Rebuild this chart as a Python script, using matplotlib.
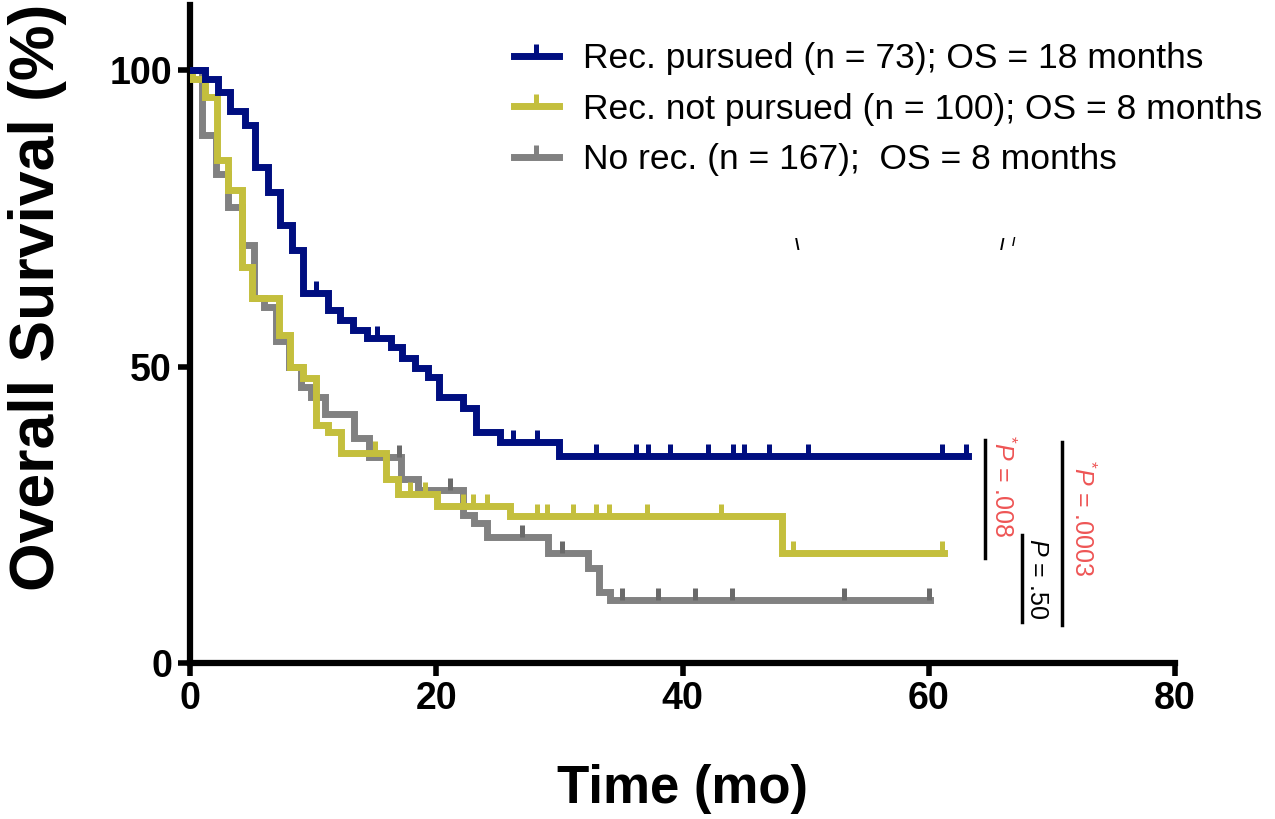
import numpy as np
import matplotlib
matplotlib.use("Agg")
import matplotlib.pyplot as plt
from matplotlib.lines import Line2D

plt.rcParams['font.family'] = ['Liberation Sans', 'DejaVu Sans']
plt.rcParams['mathtext.fontset'] = 'custom'
plt.rcParams['mathtext.rm'] = 'Liberation Sans'
plt.rcParams['mathtext.it'] = 'Liberation Sans:italic'

# Kaplan-Meier steps (time in months, survival in %)
blue_t = [0, 1.2, 2.3, 3.25, 4.5, 5.3, 6.3, 7.3, 8.3, 9.2, 11.2, 12.2, 13.2, 14.4,
          16.3, 17.2, 18.3, 19.3, 20.2, 22.2, 23.2, 25.2, 30.0]
blue_s = [100, 98.6, 96.3, 93.2, 90.7, 83.6, 79.4, 73.9, 69.6, 62.4, 59.5, 57.8, 56.2, 54.8,
          53.3, 51.4, 49.7, 48.2, 44.9, 43.0, 39.0, 37.3, 34.9]
blue_end = 63.2
blue_cens = [10.2, 15.2, 26.2, 28.2, 33.0, 36.2, 37.2, 39.0, 42.1, 44.1, 45.0, 47.0, 50.2, 61.1, 63.0]

yellow_t = [0, 0.2, 1.2, 2.2, 3.1, 4.2, 5.0, 7.2, 8.1, 9.2, 10.2, 11.2, 12.3, 15.9, 16.9,
            20.1, 26.0, 48.1]
yellow_s = [100, 98.5, 95.5, 84.8, 79.8, 66.8, 61.5, 55.3, 50.0, 48.0, 40.1, 39.0, 35.5, 31.0, 28.5,
            26.5, 24.8, 18.5]
yellow_end = 61.2
yellow_cens = [15.0, 17.9, 19.1, 22.2, 23.0, 24.1, 28.2, 29.0, 31.1, 33.0, 34.0, 37.1, 43.1, 49.0, 61.1]

gray_t = [0, 1.0, 2.1, 3.1, 4.2, 5.2, 6.0, 7.0, 8.0, 9.0, 9.8, 11.0, 13.3, 14.5, 17.1, 18.5,
          22.2, 23.1, 24.1, 29.1, 32.3, 33.2, 34.1]
gray_s = [100, 89.0, 82.5, 77.0, 70.5, 61.5, 60.0, 54.3, 50.0, 46.5, 44.8, 42.0, 38.0, 34.7, 31.0, 29.2,
          25.0, 23.6, 21.2, 18.5, 16.0, 12.0, 10.6]
gray_end = 60.1
gray_cens = [17.0, 21.1, 27.0, 30.2, 35.1, 38.0, 41.0, 44.0, 53.1, 60.0]

labels = ["Rec. pursued (n = 73); OS = 18 months",
          "Rec. not pursued (n = 100); OS = 8 months",
          "No rec. (n = 167);  OS = 8 months"]

BLUE = "#000e80"
YELLOW = "#c4bf3d"
GRAY = "#818181"
RED = "#ee5555"
LW = 5.0


def km(ax, t, s, end, cens, color, z, tick_color=None):
    xs = list(t) + [end]
    ys = list(s) + [s[-1]]
    ax.step(xs, ys, where="post", color=color, lw=LW, zorder=z, solid_joinstyle="miter")
    idx = np.searchsorted(t, cens, side="right") - 1
    cy = np.array(s)[idx]
    ax.plot(cens, cy, ls="none", marker=2, ms=9, mew=3.6,
            color=tick_color or color, zorder=z)


fig = plt.figure(figsize=(12.75, 8.19), dpi=100)
ax = fig.add_axes([190 / 1275, 1 - 663 / 819, (1175 - 190) / 1275, 658 / 819])

km(ax, gray_t, gray_s, gray_end, gray_cens, GRAY, 2, "#6a6a6a")
km(ax, yellow_t, yellow_s, yellow_end, yellow_cens, YELLOW, 3)
km(ax, blue_t, blue_s, blue_end, blue_cens, BLUE, 4)

ax.set_xlim(0, 80)
ax.set_ylim(0, 111)
ax.set_xticks([0, 20, 40, 60, 80])
ax.set_yticks([0, 50, 100])
for side in ("top", "right"):
    ax.spines[side].set_visible(False)
for side in ("left", "bottom"):
    ax.spines[side].set_linewidth(4.5)
ax.tick_params(width=4, length=9, labelsize=27, pad=4)
for lab in ax.get_xticklabels() + ax.get_yticklabels():
    lab.set_fontweight("bold")
ax.set_xlabel("Time (mo)", fontsize=38, fontweight="bold", labelpad=34)
ax.set_ylabel("Overall Survival (%)", fontsize=45, fontweight="bold")
ax.yaxis.set_label_coords(-0.125, 0.555)

# p-value brackets
ax.plot([64.6, 64.6], [17.7, 37.6], color="black", lw=2.5, clip_on=False)
ax.plot([67.6, 67.6], [6.9, 21.6], color="black", lw=2.5, clip_on=False)
ax.plot([70.8, 70.8], [6.4, 37.3], color="black", lw=2.5, clip_on=False)
ptext = dict(rotation=270, fontsize=18, ha="left", va="center", rotation_mode="anchor")
ax.text(66.0, 38.4, r"$^{*}\mathit{P}$ = .008", color=RED, **ptext)
ax.text(68.8, 21.1, r"$\mathit{P}$ = .50", color="black", **ptext)
ax.text(72.5, 34.2, r"$^{*}\mathit{P}$ = .0003", color=RED, **ptext)

# stray marks left over in the original figure
ax.text(49.3, 70.5, "\\", fontsize=12, fontweight="bold", ha="center", va="center")
ax.text(66.0, 70.5, "/", fontsize=12, fontweight="bold", ha="center", va="center")
ax.text(66.9, 70.9, "/", fontsize=9, fontweight="bold", ha="center", va="center")

handles = [Line2D([], [], color=c, lw=LW, marker=2, ms=9, mew=3.6)
           for c in (BLUE, YELLOW, GRAY)]
fig.legend(handles, labels, loc="upper left", bbox_to_anchor=(514 / 1275, 1 - 42 / 819),
           frameon=False, fontsize=25.5, handlelength=1.27,
           handletextpad=0.68, labelspacing=0.5, borderpad=0, borderaxespad=0, numpoints=1)

fig.savefig("out.png", dpi=100)
